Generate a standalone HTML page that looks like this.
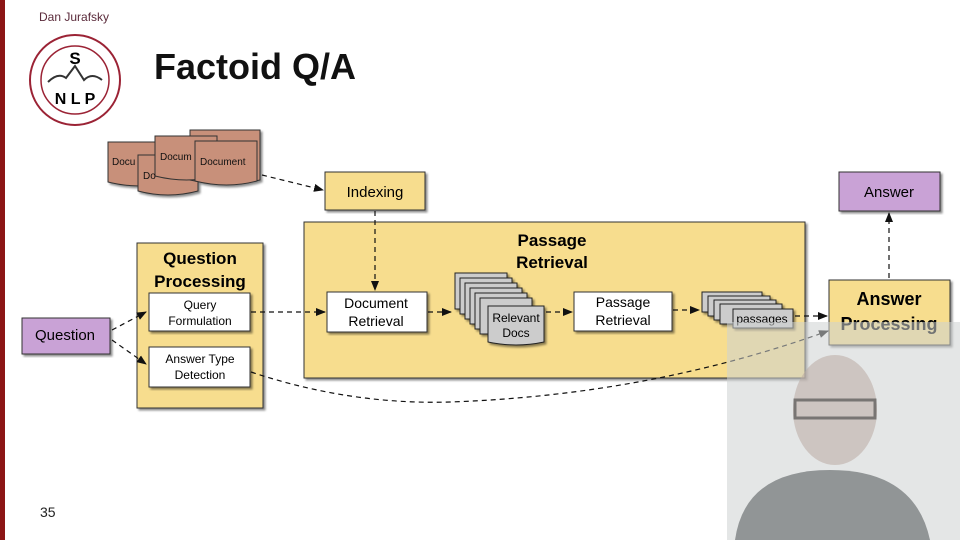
<!DOCTYPE html>
<html><head><meta charset="utf-8"><style>
html,body{margin:0;padding:0;background:#fff;width:960px;height:540px;overflow:hidden}
svg{display:block;font-family:"Liberation Sans",sans-serif}
</style></head><body>
<svg width="960" height="540" viewBox="0 0 960 540">
<defs>
<marker id="ah" markerWidth="10" markerHeight="8" refX="9" refY="4" orient="auto" markerUnits="userSpaceOnUse"><path d="M0,0 L10,4 L0,8z" fill="#111"/></marker>
<filter id="sh"><feDropShadow dx="2" dy="2" stdDeviation="1" flood-opacity="0.45"/></filter>
</defs>
<rect x="0" y="0" width="5" height="540" fill="#8c1515"/>
<text x="39" y="21" font-size="12" fill="#5a2a3a">Dan Jurafsky</text>
<circle cx="75" cy="80" r="45" fill="#fff" stroke="#9b2335" stroke-width="2"/>
<circle cx="75" cy="80" r="34" fill="none" stroke="#9b2335" stroke-width="1.5"/>
<text x="75" y="64" font-size="17" font-weight="bold" text-anchor="middle">S</text>
<path d="M48,82 Q58,72 66,78 L75,66 L84,80 Q92,72 102,80" fill="none" stroke="#333" stroke-width="2"/>
<text x="75" y="104" font-size="16" font-weight="bold" text-anchor="middle">N L P</text>
<text x="154" y="79" font-size="36" font-weight="bold" fill="#111">Factoid Q/A</text>

<g fill="#c8907a" stroke="#333" stroke-width="1" filter="url(#sh)">
<path d="M108,142 h62 v40 q-30,8 -62,0z"/>
<path d="M138,155 h60 v36 q-30,8 -60,0z"/>
<path d="M190,130 h70 v50 q-35,8 -70,0z"/>
<path d="M155,136 h62 v40 q-30,8 -62,0z"/>
<path d="M195,141 h62 v40 q-30,8 -62,0z"/>
</g>
<g font-size="10" fill="#111">
<text x="112" y="165">Docu</text><text x="160" y="160">Docum</text><text x="200" y="165">Document</text><text x="143" y="179">Do</text>
</g>

<rect x="304" y="222" width="501" height="156" fill="#f7dd8e" stroke="#333" filter="url(#sh)"/>
<text x="552" y="246" font-size="17" font-weight="bold" text-anchor="middle">Passage</text>
<text x="552" y="268" font-size="17" font-weight="bold" text-anchor="middle">Retrieval</text>

<rect x="325" y="172" width="100" height="38" fill="#f7dd8e" stroke="#333" filter="url(#sh)"/>
<text x="375" y="197" font-size="15" text-anchor="middle">Indexing</text>

<rect x="839" y="172" width="101" height="39" fill="#c9a2d6" stroke="#333" filter="url(#sh)"/>
<text x="889" y="197" font-size="15" text-anchor="middle">Answer</text>

<rect x="137" y="243" width="126" height="165" fill="#f7dd8e" stroke="#333" filter="url(#sh)"/>
<text x="200" y="264" font-size="17" font-weight="bold" text-anchor="middle">Question</text>
<text x="200" y="287" font-size="17" font-weight="bold" text-anchor="middle">Processing</text>
<rect x="149" y="293" width="101" height="38" fill="#fff" stroke="#333" filter="url(#sh)"/>
<text x="200" y="309" font-size="12" text-anchor="middle">Query</text>
<text x="200" y="325" font-size="12" text-anchor="middle">Formulation</text>
<rect x="149" y="347" width="101" height="40" fill="#fff" stroke="#333" filter="url(#sh)"/>
<text x="200" y="363" font-size="12" text-anchor="middle">Answer Type</text>
<text x="200" y="379" font-size="12" text-anchor="middle">Detection</text>

<path d="M22,318 h88 v36 h-88z" fill="#c9a2d6" stroke="#333" filter="url(#sh)"/>
<text x="65" y="340" font-size="15" text-anchor="middle">Question</text>

<rect x="327" y="292" width="100" height="40" fill="#fff" stroke="#333" filter="url(#sh)"/>
<text x="376" y="308" font-size="14" text-anchor="middle">Document</text>
<text x="376" y="326" font-size="14" text-anchor="middle">Retrieval</text>

<g fill="#ccc" stroke="#222" filter="url(#sh)">
<path d="M455,273 h52 v36 h-52z"/><path d="M460,278 h52 v36 h-52z"/><path d="M465,283 h52 v36 h-52z"/><path d="M470,288 h52 v36 h-52z"/><path d="M475,293 h52 v36 h-52z"/><path d="M480,298 h52 v36 h-52z"/>
<path d="M488,306 h56 v36 q-28,6 -56,0z"/>
</g>
<text x="516" y="322" font-size="12" text-anchor="middle">Relevant</text>
<text x="516" y="337" font-size="12" text-anchor="middle">Docs</text>

<rect x="574" y="292" width="98" height="39" fill="#fff" stroke="#333" filter="url(#sh)"/>
<text x="623" y="307" font-size="14" text-anchor="middle">Passage</text>
<text x="623" y="325" font-size="14" text-anchor="middle">Retrieval</text>

<g fill="#ccc" stroke="#222" filter="url(#sh)">
<path d="M702,292 h60 v20 h-60z"/><path d="M708,296 h62 v20 h-62z"/><path d="M714,300 h62 v20 h-62z"/><path d="M720,304 h62 v20 h-62z"/>
<path d="M733,309 h60 v19 h-60z"/>
</g>
<text x="762" y="323" font-size="12" text-anchor="middle">passages</text>

<rect x="829" y="280" width="121" height="65" fill="#f7dd8e" stroke="#333" filter="url(#sh)"/>
<text x="889" y="305" font-size="18" font-weight="bold" text-anchor="middle">Answer</text>
<text x="889" y="330" font-size="18" font-weight="bold" text-anchor="middle">Processing</text>

<g stroke="#111" stroke-width="1.2" stroke-dasharray="5,4" fill="none" marker-end="url(#ah)">
<path d="M262,175 L323,190"/>
<path d="M375,211 L375,290"/>
<path d="M112,330 L146,312"/>
<path d="M112,340 L146,364"/>
<path d="M251,312 L325,312"/>
<path d="M428,312 L451,312"/>
<path d="M546,312 L572,312"/>
<path d="M673,310 L699,310"/>
<path d="M795,316 L827,316"/>
<path d="M251,372 Q350,405 450,402 Q650,395 828,331"/>
<path d="M889,278 L889,213"/>
</g>

<rect x="727" y="322" width="233" height="218" fill="#cdd2d2" opacity="0.55"/>
<ellipse cx="835" cy="410" rx="42" ry="55" fill="#b9a9a2" opacity="0.55"/>
<rect x="795" y="400" width="80" height="18" fill="none" stroke="#333" stroke-width="3" opacity="0.55"/>
<path d="M735,540 Q745,470 830,470 Q915,470 930,540z" fill="#6e7273" opacity="0.7"/>
<text x="40" y="517" font-size="14" fill="#222">35</text>
</svg>
</body></html>
